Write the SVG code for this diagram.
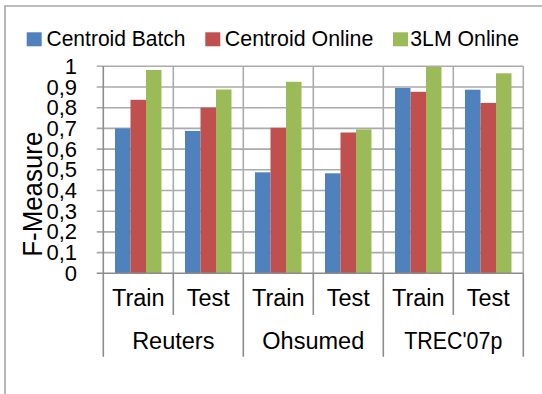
<svg xmlns="http://www.w3.org/2000/svg" width="542" height="394" viewBox="0 0 542 394">
<style>
text{font-family:"Liberation Sans",Arial,sans-serif;fill:#000}
.grid{stroke:#ABABAB;stroke-width:1.6;fill:none}
.axis{stroke:#8C8C8C;stroke-width:1.6;fill:none}
.frame{stroke:#A6A6A6;stroke-width:1.6;fill:none}
.b{fill:#4F81BD}.r{fill:#C0504D}.g{fill:#9BBB59}
.lg{font-size:22.7px}
.yl{font-size:22px;text-anchor:end}
.xl{font-size:23.5px;text-anchor:middle}
</style>
<rect width="542" height="394" fill="#fff"/>
<path class="frame" d="M5,394V6H542"/>
<g id="legend">
<rect class="b" x="26.7" y="32.3" width="15" height="14"/>
<text class="lg" x="46.5" y="46.3" textLength="139" lengthAdjust="spacingAndGlyphs">Centroid Batch</text>
<rect class="r" x="205.3" y="32.3" width="15" height="14"/>
<text class="lg" x="224.8" y="46.3" textLength="148.6" lengthAdjust="spacingAndGlyphs">Centroid Online</text>
<rect class="g" x="393" y="32.3" width="15" height="14"/>
<text class="lg" x="410.3" y="46.3" textLength="108.7" lengthAdjust="spacingAndGlyphs">3LM Online</text>
</g>
<g id="gridlines">
<path class="grid" d="M96.7,66.3H523.3M96.7,87H523.3M96.7,107.7H523.3M96.7,128.4H523.3M96.7,149.1H523.3M96.7,169.8H523.3M96.7,190.5H523.3M96.7,211.2H523.3M96.7,231.9H523.3M96.7,252.6H523.3"/>
<path class="grid" d="M173.3,66.3V273.3M243.3,66.3V273.3M313.3,66.3V273.3M383.3,66.3V273.3M453.3,66.3V273.3M523.3,66.3V273.3"/>
</g>
<g id="bars">
<rect class="b" x="115" y="128.4" width="15.5" height="144.9"/>
<rect class="r" x="130.5" y="99.8" width="15.5" height="173.5"/>
<rect class="g" x="146" y="70" width="15.5" height="203.3"/>
<rect class="b" x="185" y="130.9" width="15.5" height="142.4"/>
<rect class="r" x="200.5" y="107.7" width="15.5" height="165.6"/>
<rect class="g" x="216" y="89.5" width="15.5" height="183.8"/>
<rect class="b" x="255" y="172.3" width="15.5" height="101"/>
<rect class="r" x="270.5" y="127.8" width="15.5" height="145.5"/>
<rect class="g" x="286" y="81.8" width="15.5" height="191.5"/>
<rect class="b" x="325" y="173.3" width="15.5" height="100"/>
<rect class="r" x="340.5" y="132.5" width="15.5" height="140.8"/>
<rect class="g" x="356" y="129.4" width="15.5" height="143.9"/>
<rect class="b" x="395" y="88" width="15.5" height="185.3"/>
<rect class="r" x="410.5" y="91.8" width="15.5" height="181.5"/>
<rect class="g" x="426" y="66.9" width="15.5" height="206.4"/>
<rect class="b" x="465" y="89.7" width="15.5" height="183.6"/>
<rect class="r" x="480.5" y="102.9" width="15.5" height="170.4"/>
<rect class="g" x="496" y="73.3" width="15.5" height="200"/>
</g>
<g id="axes">
<path class="axis" d="M103.3,66.3V356.7M96.7,273.3H523.3"/>
<path class="axis" d="M173.3,273.3V315M243.3,273.3V356.7M313.3,273.3V315M383.3,273.3V356.7M453.3,273.3V315M523.3,273.3V356.7"/>
</g>
<g id="y-labels">
<text class="yl" x="77" y="73.8">1</text>
<text class="yl" x="77" y="94.5">0,9</text>
<text class="yl" x="77" y="115.2">0,8</text>
<text class="yl" x="77" y="135.9">0,7</text>
<text class="yl" x="77" y="156.6">0,6</text>
<text class="yl" x="77" y="177.3">0,5</text>
<text class="yl" x="77" y="198">0,4</text>
<text class="yl" x="77" y="218.7">0,3</text>
<text class="yl" x="77" y="239.4">0,2</text>
<text class="yl" x="77" y="260.1">0,1</text>
<text class="yl" x="77" y="280.8">0</text>
</g>
<text id="y-title" transform="translate(41.7,256.7) rotate(-90)" font-size="27" textLength="125" lengthAdjust="spacingAndGlyphs">F-Measure</text>
<g id="x-labels">
<text class="xl" x="138.3" y="306">Train</text>
<text class="xl" x="208.3" y="306">Test</text>
<text class="xl" x="278.3" y="306">Train</text>
<text class="xl" x="348.3" y="306">Test</text>
<text class="xl" x="418.3" y="306">Train</text>
<text class="xl" x="488.3" y="306">Test</text>
<text class="xl" x="173.3" y="349">Reuters</text>
<text class="xl" x="313.3" y="349">Ohsumed</text>
<text class="xl" x="453.3" y="349" textLength="98" lengthAdjust="spacingAndGlyphs">TREC'07p</text>
</g>
</svg>
